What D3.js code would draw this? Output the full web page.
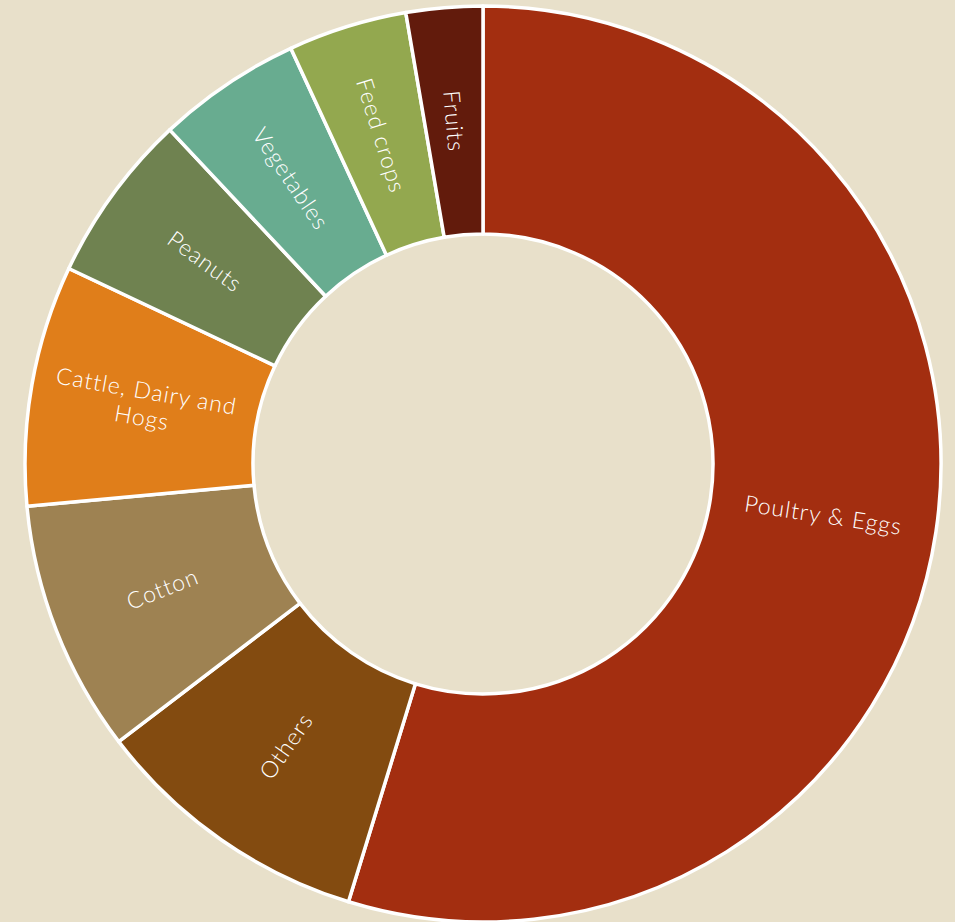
<!DOCTYPE html>
<html>
<head>
<meta charset="utf-8">
<script src="https://cdn.jsdelivr.net/npm/d3@7"></script>
<style>
  html, body { margin: 0; padding: 0; background: #e8e0ca; }
  svg { display: block; }
</style>
</head>
<body>
<script>
const width = 955;
const height = 922;

const categories = ["Poultry & Eggs", "Others", "Cotton", "Cattle, Dairy and Hogs", "Peanuts", "Vegetables", "Feed crops", "Fruits"];
const shares = [54.8, 9.9, 8.9, 8.5, 6.0, 5.1, 4.2, 2.7];
const colors = ["#a32e10", "#834b10", "#9e8252", "#e07e1a", "#6f8250", "#68ac90", "#93a84f", "#621b0c"];
// labels that wrap onto two lines
const labelLines = [["Poultry & Eggs"], ["Others"], ["Cotton"], ["Cattle, Dairy and", "Hogs"], ["Peanuts"], ["Vegetables"], ["Feed crops"], ["Fruits"]];

const data = categories.map((c, i) => ({ name: c, value: shares[i], lines: labelLines[i] }));

const cx = 483, cy = 464;
const outerRadius = 458;
const innerRadius = 230;

const color = d3.scaleOrdinal().domain(categories).range(colors);

const pie = d3.pie().sort(null).value((d) => d.value);
const arc = d3.arc().innerRadius(innerRadius).outerRadius(outerRadius);

const svg = d3
  .select("body")
  .append("svg")
  .attr("width", width)
  .attr("height", height);

svg.append("rect").attr("width", width).attr("height", height).attr("fill", "#e8e0ca");

const g = svg.append("g").attr("transform", `translate(${cx},${cy})`);

const arcs = pie(data);

g.selectAll("path")
  .data(arcs)
  .join("path")
  .attr("d", arc)
  .attr("fill", (d) => color(d.data.name))
  .attr("stroke", "#fff")
  .attr("stroke-width", 3.5)
  .attr("stroke-linejoin", "round");

// radial labels, flipped on the left half so they stay readable
const label = g
  .selectAll("text")
  .data(arcs)
  .join("text")
  .attr("transform", (d) => {
    const [x, y] = arc.centroid(d);
    const a = ((d.startAngle + d.endAngle) / 2) * 180 / Math.PI;
    const rot = a > 180 ? a - 270 : a - 90;
    return `translate(${x},${y}) rotate(${rot})`;
  })
  .attr("text-anchor", "middle")
  .attr("fill", "#fff")
  .style("font-family", "Lato, 'Open Sans', sans-serif")
  .style("font-weight", 300)
  .style("font-size", "23px")
  .style("letter-spacing", "1px");

label
  .selectAll("tspan")
  .data((d) => d.data.lines.map((l, i, arr) => ({ l, i, n: arr.length })))
  .join("tspan")
  .attr("x", 0)
  .attr("y", (d) => (d.i - (d.n - 1) / 2) * 27)
  .attr("dy", "0.35em")
  .text((d) => d.l);
</script>
</body>
</html>
